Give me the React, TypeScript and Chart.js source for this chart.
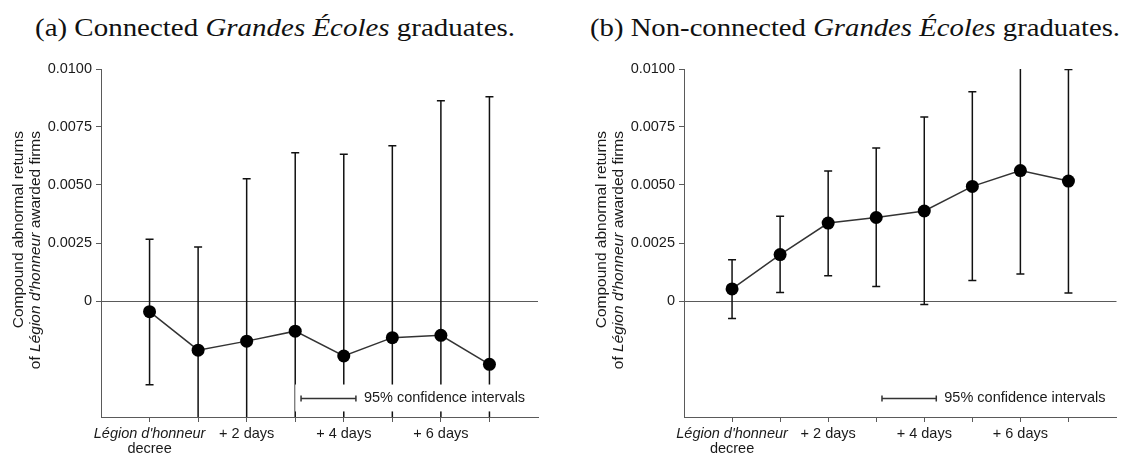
import React, { useEffect, useLayoutEffect, useRef } from 'react';
import { Chart, registerables } from 'chart.js';

Chart.register(...registerables);

// ---------- data ----------
const days = [0, 1, 2, 3, 4, 5, 6, 7];
const xLabelDays = [0, 2, 4, 6];
const xLabelTexts = ["Légion d'honneur\ndecree", '+ 2 days', '+ 4 days', '+ 6 days'];
const yTickValues = [0, 0.0025, 0.005, 0.0075, 0.01];

const connectedMean = [-0.00046, -0.00212, -0.00173, -0.0013, -0.00237, -0.00158, -0.00148, -0.00273];
const connectedUpper = [0.00266, 0.00233, 0.00527, 0.00639, 0.00633, 0.00669, 0.00863, 0.0088];
const connectedLower = [-0.00361, -0.00657, -0.00873, -0.00899, -0.01107, -0.00985, -0.01159, -0.01426];

const nonConnectedMean = [0.00052, 0.002, 0.00336, 0.0036, 0.00388, 0.00494, 0.00562, 0.00517];
const nonConnectedUpper = [0.00178, 0.00365, 0.0056, 0.0066, 0.00793, 0.00902, 0.0101, 0.00998];
const nonConnectedLower = [-0.00075, 0.00037, 0.00109, 0.00062, -0.00015, 0.00088, 0.00116, 0.00034];

const legendText = '95% confidence intervals';
const yTitleLine1 = 'Compound abnormal returns';
const yTitleLine2 = [
  { text: 'of ', italic: false },
  { text: "Légion d'honneur", italic: true },
  { text: ' awarded firms', italic: false },
];

const SANS = '"Liberation Sans", Arial, sans-serif';
const FS = 14.5;
const TEXT = '#1a1a1a';
const AXIS = '#5a5a5a';

type PanelProps = {
  mean: number[];
  upper: number[];
  lower: number[];
  left: number;
  width: number;
  yWidth: number;
  padRight: number;
};

function Panel({ mean, upper, lower, left, width, yWidth, padRight }: PanelProps) {
  const ref = useRef<HTMLCanvasElement | null>(null);
  useEffect(() => {
    if (!ref.current) return;
    const plugin = {
      id: 'custom',
      beforeDatasetsDraw(chart: any) {
        const { ctx, chartArea, scales } = chart;
        const x = scales.x, y = scales.y;
        ctx.save();
        ctx.beginPath();
        ctx.rect(chartArea.left, chartArea.top, chartArea.right - chartArea.left, chartArea.bottom - chartArea.top);
        ctx.clip();
        ctx.strokeStyle = '#111';
        ctx.lineWidth = 1.5;
        days.forEach((d, i) => {
          const px = x.getPixelForValue(d);
          const pu = y.getPixelForValue(upper[i]);
          const pl = y.getPixelForValue(lower[i]);
          ctx.beginPath();
          ctx.moveTo(px, pu);
          ctx.lineTo(px, pl);
          ctx.moveTo(px - 4, pu);
          ctx.lineTo(px + 4, pu);
          ctx.moveTo(px - 4, pl);
          ctx.lineTo(px + 4, pl);
          ctx.stroke();
        });
        ctx.restore();
      },
      afterDatasetsDraw(chart: any) {
        const { ctx, chartArea, scales } = chart;
        const x = scales.x, y = scales.y;
        ctx.save();
        const bx0 = x.getPixelForValue(3);
        const bx1 = chartArea.right - 1;
        const by0 = y.getPixelForValue(-0.0036);
        const by1 = y.getPixelForValue(-0.00476);
        ctx.fillStyle = '#fff';
        ctx.fillRect(bx0, by0, bx1 - bx0, by1 - by0);
        const ly = y.getPixelForValue(-0.0042);
        const lx0 = x.getPixelForValue(3.12);
        const lx1 = x.getPixelForValue(4.25);
        ctx.strokeStyle = '#333';
        ctx.lineWidth = 1.5;
        ctx.beginPath();
        ctx.moveTo(lx0, ly);
        ctx.lineTo(lx1, ly);
        ctx.moveTo(lx0, ly - 3);
        ctx.lineTo(lx0, ly + 3);
        ctx.moveTo(lx1, ly - 3);
        ctx.lineTo(lx1, ly + 3);
        ctx.stroke();
        ctx.fillStyle = TEXT;
        ctx.font = `${FS}px ${SANS}`;
        ctx.textAlign = 'left';
        ctx.textBaseline = 'middle';
        ctx.fillText(legendText, lx1 + 8, ly);
        ctx.restore();
      },
      afterDraw(chart: any) {
        const { ctx, chartArea, scales } = chart;
        const x = scales.x;
        ctx.save();
        ctx.fillStyle = TEXT;
        ctx.textAlign = 'center';
        ctx.textBaseline = 'middle';
        xLabelDays.forEach((d, i) => {
          const px = x.getPixelForValue(d);
          const lines = xLabelTexts[i].split('\n');
          lines.forEach((ln, j) => {
            ctx.font = (i === 0 && j === 0 ? 'italic ' : '') + `${FS}px ${SANS}`;
            ctx.fillText(ln, px, chartArea.bottom + 17 + j * 15);
          });
        });
        // y axis title
        const ax = chartArea.left;
        const yEnd = chartArea.top + 62;
        const fs = 15.5;
        ctx.translate(ax - 82, yEnd);
        ctx.rotate(-Math.PI / 2);
        ctx.font = `${fs}px ${SANS}`;
        ctx.textAlign = 'right';
        ctx.fillText(yTitleLine1, 0, 0);
        ctx.textAlign = 'left';
        let total = 0;
        const widths = yTitleLine2.map((s) => {
          ctx.font = (s.italic ? 'italic ' : '') + `${fs}px ${SANS}`;
          const w = ctx.measureText(s.text).width;
          total += w;
          return w;
        });
        let cx = -total;
        yTitleLine2.forEach((s, i) => {
          ctx.font = (s.italic ? 'italic ' : '') + `${fs}px ${SANS}`;
          ctx.fillText(s.text, cx, 16.5);
          cx += widths[i];
        });
        ctx.restore();
      },
    };

    const chart = new Chart(ref.current, {
      type: 'line',
      data: {
        datasets: [
          {
            data: days.map((d, i) => ({ x: d, y: mean[i] })),
            borderColor: '#333',
            borderWidth: 1.5,
            pointRadius: 6.5,
            pointBackgroundColor: '#000',
            pointBorderColor: '#000',
            pointBorderWidth: 0,
            tension: 0,
            clip: false as any,
          },
        ],
      },
      options: {
        responsive: false,
        animation: false,
        devicePixelRatio: 1,
        layout: { padding: { left: 0, right: padRight, top: 19, bottom: 0 } },
        plugins: { legend: { display: false }, tooltip: { enabled: false }, title: { display: false } },
        scales: {
          x: {
            type: 'linear',
            min: -1,
            max: 8,
            afterBuildTicks: (scale: any) => {
              scale.ticks = days.map((v) => ({ value: v }));
            },
            afterFit: (scale: any) => {
              scale.height = 38;
            },
            grid: { drawOnChartArea: false, drawTicks: true, tickLength: 5, tickColor: AXIS, color: AXIS },
            border: { display: true, color: AXIS, width: 1 },
            ticks: { callback: () => '', padding: 0 },
          },
          y: {
            type: 'linear',
            min: -0.005,
            max: 0.01,
            afterBuildTicks: (scale: any) => {
              scale.ticks = yTickValues.map((v) => ({ value: v }));
            },
            afterFit: (scale: any) => {
              scale.width = yWidth;
            },
            grid: {
              drawOnChartArea: true,
              drawTicks: true,
              tickLength: 5,
              tickColor: AXIS,
              color: (c: any) => (c.tick && c.tick.value === 0 ? AXIS : 'rgba(0,0,0,0)'),
              lineWidth: 1,
            },
            border: { display: true, color: AXIS, width: 1 },
            ticks: {
              padding: 4,
              color: TEXT,
              font: { family: SANS, size: FS },
              callback: (v: any) => (Number(v) === 0 ? '0' : Number(v).toFixed(4)),
            },
          },
        },
      },
      plugins: [plugin],
    });
    return () => chart.destroy();
  }, []);
  return (
    <canvas
      ref={ref}
      width={width}
      height={405}
      style={{ position: 'absolute', left, top: 50, width, height: 405, display: 'block' }}
    />
  );
}

function Title({ left, width, children }: { left: number; width: number; children: React.ReactNode }) {
  const ref = useRef<HTMLDivElement | null>(null);
  useLayoutEffect(() => {
    const el = ref.current;
    if (!el) return;
    el.style.transform = 'none';
    const w = el.getBoundingClientRect().width;
    if (w > 0) el.style.transform = `scaleX(${width / w})`;
  }, []);
  return (
    <div
      ref={ref}
      style={{
        position: 'absolute',
        left,
        top: 13,
        whiteSpace: 'nowrap',
        transformOrigin: 'left center',
        font: '26px "Liberation Serif", "Times New Roman", serif',
        color: '#111',
        lineHeight: '30px',
      }}
    >
      {children}
    </div>
  );
}

export default function App() {
  return (
    <div style={{ position: 'fixed', left: 0, top: 0, width: 1123, height: 455, background: '#fff', overflow: 'hidden' }}>
      <Title left={35} width={480}>
        (a) Connected <i>Grandes Écoles</i> graduates.
      </Title>
      <Title left={590} width={530}>
        (b) Non-connected <i>Grandes Écoles</i> graduates.
      </Title>
      <Panel mean={connectedMean} upper={connectedUpper} lower={connectedLower} left={0} width={561} yWidth={101} padRight={23} />
      <Panel mean={nonConnectedMean} upper={nonConnectedUpper} lower={nonConnectedLower} left={561} width={562} yWidth={123} padRight={1} />
    </div>
  );
}
